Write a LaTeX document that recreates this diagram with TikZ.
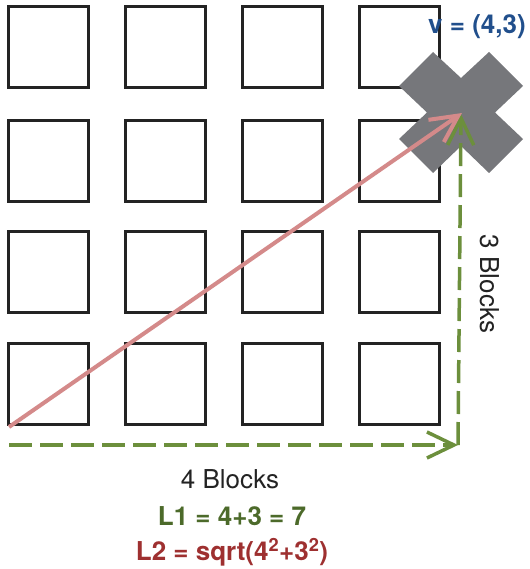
\documentclass[tikz,border=0pt]{standalone}
\usepackage{fontspec}
\setmainfont{TeX Gyre Heros}
\usetikzlibrary{arrows.meta}
\definecolor{sqcol}{RGB}{35,35,35}
\definecolor{crosscol}{RGB}{118,119,123}
\definecolor{vblue}{RGB}{33,79,140}
\definecolor{pinkline}{RGB}{212,138,138}
\definecolor{greenline}{RGB}{108,143,60}
\definecolor{greentext}{RGB}{76,106,42}
\definecolor{redtext}{RGB}{158,48,48}
\tikzset{
  sq/.style={draw=sqcol, line width=2.6pt, minimum width=80pt, minimum height=81pt, inner sep=0pt},
  pinkarrow/.style={draw=pinkline, line width=4pt, -{Straight Barb[length=27pt,width=27pt]}},
  greendash/.style={draw=greenline, line width=3.5pt, dash pattern=on 23pt off 8pt, -{Straight Barb[length=27pt,width=26pt]}},
  lbl/.style={font=\fontsize{26}{31}\selectfont, inner sep=0pt},
  blbl/.style={font=\fontsize{26}{31}\selectfont\bfseries, inner sep=0pt},
}
\begin{document}
\begin{tikzpicture}[x=1pt,y=-1pt]
\useasboundingbox (0,0) rectangle (529,569);
% grid of blocks
\foreach \c/\x in {1/48.5,2/165.5,3/282.5,4/399.5}{
  \foreach \r/\y in {1/47.2,2/161.2,3/272.2,4/383.8}{
    \node[sq] (s\r\c) at (\x,\y) {};
  }
}
% cross marker
\fill[crosscol] (461,78) -- (489,52) -- (523,86) -- (495,112.5) -- (523,139) -- (489,173)
  -- (461,146) -- (433,173) -- (399,139) -- (427,112.5) -- (399,86) -- (433,52) -- cycle;
\node[blbl, text=vblue] (v) at (477,27) {v = (4,3)};
% coordinates
\coordinate (start) at (9,427);
\coordinate (tip) at (462,113);
\coordinate (hstart) at (9,445);
\coordinate (corner) at (458,445);
\coordinate (gtip) at (461,114);
% paths
\draw[greendash] (hstart) -- (corner);
\draw[greendash] (corner) -- (gtip);
\draw[pinkarrow] (start) -- (tip);
% labels
\node[lbl, rotate=-90, text=sqcol] (b3) at (490,284) {3 Blocks};
\node[lbl, text=sqcol] (b4) at (230,479) {4 Blocks};
\node[blbl, text=greentext] (l1) at (232,516) {L1 = 4+3 = 7};
\node[blbl, text=redtext] (l2) at (232,552) {L2 = sqrt(4\textsuperscript{2}+3\textsuperscript{2})};
\end{tikzpicture}
\end{document}
